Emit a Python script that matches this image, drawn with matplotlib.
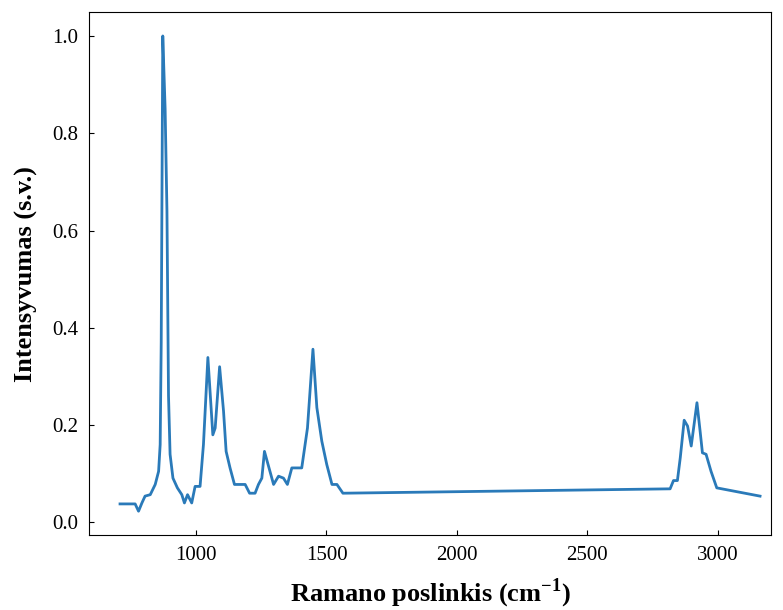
import matplotlib
matplotlib.use("Agg")
import matplotlib.pyplot as plt

# Ramano spektras (nuskaityta nuo paveikslo)
shift = [708, 766, 779, 792, 804, 824, 843, 856, 862, 866, 872, 881, 888, 894,
         900, 911, 928, 945, 955, 967, 983, 996, 1015, 1028, 1045, 1064, 1073,
         1090, 1105, 1115, 1130, 1147, 1188, 1205, 1226, 1239, 1252, 1262, 1297,
         1316, 1335, 1350, 1367, 1405, 1427, 1448, 1463, 1482, 1501, 1521, 1540,
         1563, 2818, 2831, 2846, 2857, 2872, 2885, 2899, 2921, 2933, 2942, 2956,
         2975, 2997, 3163]
intensity = [0.038, 0.038, 0.023, 0.040, 0.054, 0.057, 0.078, 0.105, 0.160, 0.370,
             1.000, 0.850, 0.640, 0.260, 0.140, 0.091, 0.071, 0.057, 0.040, 0.057,
             0.040, 0.074, 0.074, 0.160, 0.339, 0.180, 0.194, 0.320, 0.229, 0.146,
             0.112, 0.078, 0.078, 0.060, 0.060, 0.078, 0.091, 0.146, 0.078, 0.095,
             0.091, 0.078, 0.112, 0.112, 0.194, 0.356, 0.236, 0.167, 0.119, 0.078,
             0.078, 0.060, 0.069, 0.086, 0.086, 0.133, 0.210, 0.198, 0.157, 0.246,
             0.188, 0.143, 0.140, 0.105, 0.071, 0.054]

plt.rcParams['font.family'] = ['Liberation Serif', 'DejaVu Serif']
plt.rcParams['mathtext.fontset'] = 'custom'
plt.rcParams['mathtext.rm'] = 'Liberation Serif:bold'
plt.rcParams['mathtext.bf'] = 'Liberation Serif:bold'

fig, ax = plt.subplots(figsize=(7.83, 6.10), dpi=100)
fig.subplots_adjust(left=0.114, right=0.985, top=0.98, bottom=0.123)

ax.plot(shift, intensity, color='#2a7ab9', linewidth=2)
ax.set_xlim(590, 3206)
ax.set_xticks([1000, 1500, 2000, 2500, 3000])
ax.set_yticks([0.0, 0.2, 0.4, 0.6, 0.8, 1.0])
ax.tick_params(direction='in', labelsize=15, pad=8)
ax.set_xlabel('Ramano poslinkis (cm$^{\\mathbf{-1}}$)', fontsize=19,
              fontweight='bold', labelpad=8)
ax.set_ylabel('Intensyvumas (s.v.)', fontsize=19, fontweight='bold', labelpad=10)

plt.savefig('out.png', dpi=100)
